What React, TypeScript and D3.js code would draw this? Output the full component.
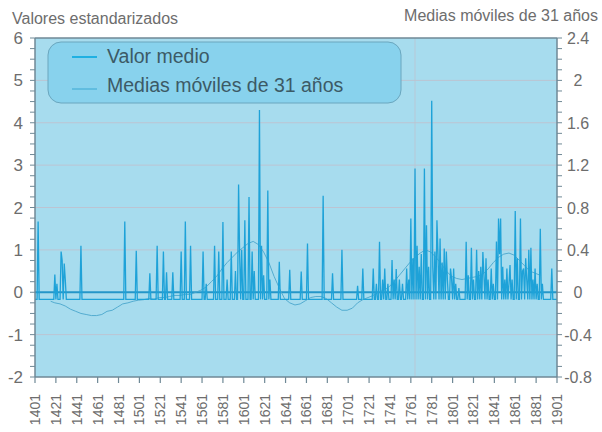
import * as d3 from "d3";

// Chart data
const firstYear = 1401;
const lastYear = 1901;
const tickYears = [
  1401, 1421, 1441, 1461, 1481, 1501, 1521, 1541, 1561, 1581, 1601, 1621, 1641,
  1661, 1681, 1701, 1721, 1741, 1761, 1781, 1801, 1821, 1841, 1861, 1881, 1901,
];
const leftTicks = [-2, -1, 0, 1, 2, 3, 4, 5, 6];
const rightTicks = [-0.8, -0.4, 0, 0.4, 0.8, 1.2, 1.6, 2, 2.4];
const gridValues = [-1, 1, 2, 3, 4, 5];
const vGridYears = [1765];

// yearly values sit on this floor except in the years listed below
const floorValue = -0.17;
const peakYears = [
  1404, 1420, 1422, 1426, 1427, 1429, 1430, 1445, 1487, 1498, 1511, 1518, 1524,
  1527, 1533, 1541, 1545, 1550, 1562, 1565, 1573, 1577, 1581, 1585, 1589, 1593,
  1596, 1597, 1599, 1602, 1606, 1609, 1611, 1616, 1618, 1620, 1624, 1626, 1635,
  1645, 1656, 1662, 1677, 1686, 1695, 1710, 1715, 1725, 1728, 1731, 1734, 1736,
  1739, 1743, 1745, 1747, 1750, 1753, 1757, 1759, 1761, 1763, 1765, 1767, 1769,
  1771, 1774, 1776, 1778, 1781, 1782, 1784, 1786, 1787, 1789, 1791, 1793, 1795,
  1796, 1799, 1800, 1802, 1804, 1807, 1814, 1816, 1819, 1821, 1824, 1826, 1828,
  1830, 1831, 1833, 1835, 1838, 1840, 1843, 1845, 1846, 1847, 1849, 1851, 1853,
  1855, 1856, 1858, 1861, 1863, 1866, 1868, 1869, 1871, 1872, 1874, 1876, 1878,
  1880, 1882, 1885, 1887, 1896,
];
const peakValues = [
  1.67, 0.42, 0.2, 0.96, 0.75, 0.68, 0.3, 1.1, 1.67, 0.98, 0.45, 1.1, 0.96,
  0.47, 0.47, 0.96, 1.67, 1.1, 0.96, 0.2, 1.1, 0.96, 1.66, 0.3, 0.96, 0.5,
  2.54, 0.9, 1.0, 1.7, 2.25, 0.96, 0.5, 4.3, 1.1, 0.4, 2.4, 0.3, 0.72,
  0.53, 0.49, 1.15, 2.28, 0.45, 1.0, 0.15, 0.56, 0.56, 0.2, 1.19, 0.3, 0.56,
  0.2, 0.76, 0.3, 0.55, 0.3, 0.2, 0.56, 0.3, 1.74, 0.8, 2.92, 1.1, 0.6,
  0.9, 2.92, 1.58, 0.6, 4.52, 0.6, 0.96, 1.7, 0.9, 1.27, 0.7, 1.03, 0.96,
  0.3, 0.56, 0.33, 0.56, 0.2, 0.1, 1.19, 0.4, 1.05, 0.3, 1.0, 0.5, 0.6,
  0.95, 0.4, 0.8, 0.3, 0.56, 0.2, 1.2, 1.74, 0.9, 1.74, 0.6, 0.3, 0.56,
  0.2, 0.64, 0.3, 1.92, 0.8, 1.74, 0.5, 0.56, 0.8, 0.3, 1.0, 1.05, 0.3,
  0.56, 0.2, 1.5, 0.2, 0.56,
];

// 31-year moving averages (right axis)
const maYears = [
  1416, 1420, 1425, 1430, 1435, 1440, 1445, 1450, 1455, 1460, 1465, 1470, 1475,
  1480, 1485, 1490, 1495, 1500, 1505, 1510, 1515, 1520, 1525, 1530, 1535, 1540,
  1545, 1550, 1555, 1560, 1565, 1570, 1575, 1580, 1585, 1590, 1595, 1600, 1605,
  1610, 1615, 1620, 1625, 1630, 1635, 1640, 1645, 1650, 1655, 1660, 1665, 1670,
  1675, 1680, 1685, 1690, 1695, 1700, 1705, 1710, 1715, 1720, 1725, 1730, 1735,
  1740, 1745, 1750, 1755, 1760, 1765, 1770, 1775, 1780, 1785, 1790, 1795, 1800,
  1805, 1810, 1815, 1820, 1825, 1830, 1835, 1840, 1845, 1850, 1855, 1860, 1865,
  1870, 1875, 1880, 1885,
];
const maValues = [
  -0.085, -0.1, -0.11, -0.13, -0.16, -0.18, -0.2, -0.21, -0.22, -0.22, -0.21, -0.18, -0.17,
  -0.14, -0.11, -0.1, -0.085, -0.075, -0.07, -0.06, -0.065, -0.05, -0.05, -0.04, -0.03, -0.03,
  -0.02, -0.02, 0.0, 0.02, 0.05, 0.1, 0.15, 0.22, 0.28, 0.33, 0.38, 0.42, 0.46,
  0.48, 0.45, 0.38, 0.28, 0.15, 0.04, -0.06, -0.1, -0.12, -0.11, -0.08, -0.05, -0.04,
  -0.04, -0.06, -0.1, -0.14, -0.17, -0.17, -0.15, -0.1, -0.07, -0.05, -0.03, 0.0, 0.02,
  0.05, 0.1, 0.16, 0.22, 0.28, 0.33, 0.37, 0.4, 0.38, 0.33, 0.27, 0.2, 0.15,
  0.13, 0.12, 0.13, 0.14, 0.15, 0.17, 0.22, 0.28, 0.33, 0.36, 0.37, 0.35, 0.3,
  0.25, 0.2, 0.18, 0.16,
];

const W = 602, H = 432;
const plot = { left: 35, right: 557, top: 38, bottom: 377 };

const axisColor = "#6f8996";
const labelColor = "#6d6d6d";
const font = "'Liberation Sans', Arial, sans-serif";

export default function App() {
  const x = d3.scaleLinear().domain([firstYear, lastYear]).range([plot.left, plot.right]);
  const yL = d3.scaleLinear().domain([-2, 6]).range([plot.bottom, plot.top]);
  const yR = d3.scaleLinear().domain([-0.8, 2.4]).range([plot.bottom, plot.top]);

  const peaks = new Map(peakYears.map((yr, i) => [yr, peakValues[i]]));
  const series = d3.range(firstYear, lastYear + 1).map((yr) => ({
    year: yr,
    value: peaks.has(yr) ? (peaks.get(yr) as number) : floorValue,
  }));
  const dataLine = d3.line<{ year: number; value: number }>()
    .x((d) => x(d.year))
    .y((d) => yL(d.value))(series);

  const maLine = d3.line<number>()
    .x((d, i) => x(maYears[i]))
    .y((d) => yR(d))(maValues);

  const minorTicks = d3.range(-2, 6.001, 0.25);

  return (
    <div style={{ position: "fixed", left: 0, top: 0 }}>
      <svg width={W} height={H} style={{ display: "block", background: "#fff" }} fontFamily={font}>
        <text x={12} y={24} fontSize={16} fill={labelColor}>Valores estandarizados</text>
        <text x={598} y={21} fontSize={16} fill={labelColor} textAnchor="end">Medias móviles de 31 años</text>

        <rect x={plot.left} y={plot.top} width={plot.right - plot.left} height={plot.bottom - plot.top} fill="#a7dcee" />

        {gridValues.map((v) => (
          <line key={"g" + v} x1={plot.left} x2={plot.right} y1={yL(v)} y2={yL(v)} stroke="#bcc4d2" strokeWidth={1} />
        ))}
        {vGridYears.map((yr) => (
          <line key={"vg" + yr} x1={x(yr)} x2={x(yr)} y1={plot.top} y2={plot.bottom} stroke="#bcc4d2" strokeWidth={0.8} />
        ))}

        <line x1={plot.left} x2={plot.right} y1={yL(0)} y2={yL(0)} stroke="#2496c8" strokeWidth={2.2} />
        <path d={maLine ?? ""} fill="none" stroke="#4aa6cc" strokeWidth={0.9} />
        <path d={dataLine ?? ""} fill="none" stroke="#1ea2d8" strokeWidth={1.3} strokeLinejoin="miter" />

        {/* legend */}
        <rect x={48} y={42} width={353} height={61} rx={13} fill="#88d2ed" stroke="#6aa6be" strokeWidth={1} />
        <line x1={72} x2={97} y1={57} y2={57} stroke="#1fb0e2" strokeWidth={2} />
        <line x1={72} x2={97} y1={89} y2={89} stroke="#3aa8d2" strokeWidth={1} />
        <text x={107} y={63} fontSize={19.5} fill="#3c5a66">Valor medio</text>
        <text x={107} y={92} fontSize={19.5} fill="#3c5a66">Medias móviles de 31 años</text>

        {/* frame */}
        <line x1={plot.left} x2={plot.right} y1={plot.top} y2={plot.top} stroke={axisColor} strokeWidth={1.5} />
        <line x1={plot.left} x2={plot.right} y1={plot.bottom} y2={plot.bottom} stroke={axisColor} strokeWidth={1.5} />
        <line x1={plot.left} x2={plot.left} y1={plot.top} y2={plot.bottom} stroke={axisColor} strokeWidth={1.5} />
        <line x1={plot.right} x2={plot.right} y1={plot.top} y2={plot.bottom} stroke={axisColor} strokeWidth={1.5} />

        {minorTicks.map((v) => (
          <g key={"mt" + v}>
            <line x1={plot.left - 5} x2={plot.left} y1={yL(v)} y2={yL(v)} stroke={axisColor} strokeWidth={1} />
            <line x1={plot.right} x2={plot.right + 5} y1={yL(v)} y2={yL(v)} stroke={axisColor} strokeWidth={1} />
          </g>
        ))}

        {leftTicks.map((v) => (
          <text key={"l" + v} x={23} y={yL(v) + 6} fontSize={17} fill={labelColor} textAnchor="end">{v}</text>
        ))}
        {rightTicks.map((v) => (
          <text key={"r" + v} x={578} y={yR(v) + 6} fontSize={16} fill={labelColor} textAnchor="middle">{v}</text>
        ))}

        {tickYears.map((yr) => (
          <g key={"x" + yr}>
            <line x1={x(yr)} x2={x(yr)} y1={plot.bottom} y2={plot.bottom + 6} stroke={axisColor} strokeWidth={1.2} />
            <text transform={`translate(${x(yr) + 5},394) rotate(-90)`} fontSize={14} fill={labelColor} textAnchor="end">{yr}</text>
          </g>
        ))}
      </svg>
    </div>
  );
}
